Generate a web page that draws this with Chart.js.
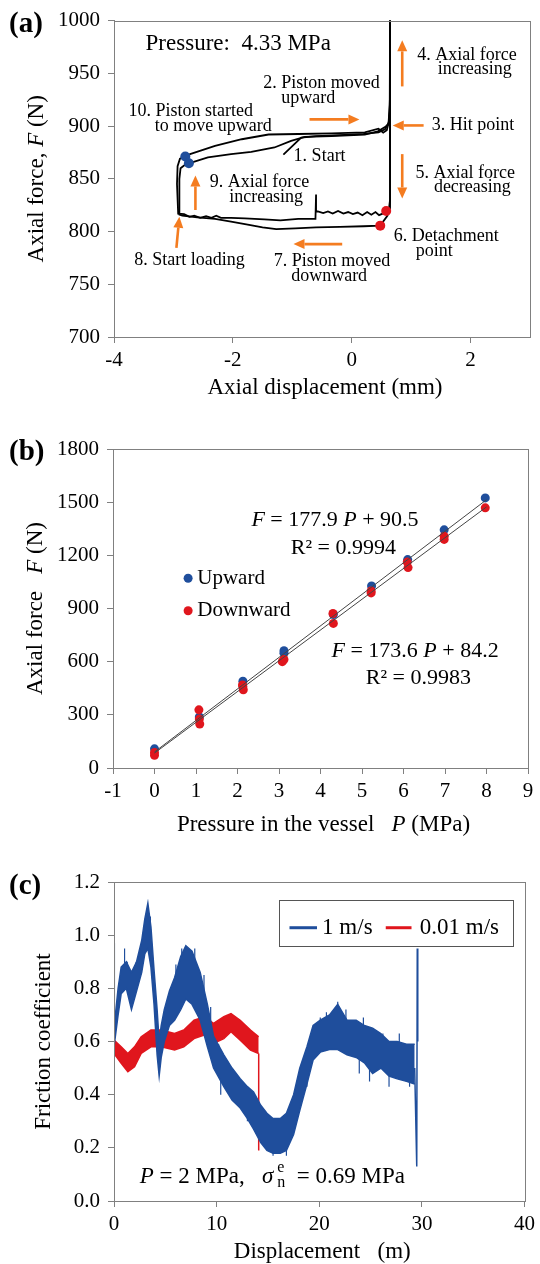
<!DOCTYPE html>
<html>
<head>
<meta charset="utf-8">
<script src="https://cdn.jsdelivr.net/npm/chart.js@4.4.1/dist/chart.umd.min.js"></script>
<style>
  body { margin: 0; background: #fff; }
  #wrap { position: relative; width: 540px; height: 1264px; }
  canvas { position: absolute; left: 0; }
</style>
</head>
<body>
<div id="wrap">
  <canvas id="chartA" width="540" height="410" style="top:0px"></canvas>
  <canvas id="chartB" width="540" height="420" style="top:420px"></canvas>
  <canvas id="chartC" width="540" height="414" style="top:850px"></canvas>
</div>
<script>
// ---- (a) axial force vs axial displacement, [mm, N] ----
const startStroke = [[-1.15, 873], [-0.85, 889], [-0.6, 890.5], [-0.2, 891.5], [0.2, 892.5], [0.45, 894], [0.56, 897], [0.62, 903], [0.64, 920], [0.645, 1005]];
const firstReturn = [[0.645, 1005], [0.645, 830], [0.63, 823], [0.58, 819.4], [0.52, 817], [0.46, 815.5], [0.4, 818.5], [0.33, 816], [0.26, 818.5], [0.18, 815.5], [0.1, 818], [0.02, 816.5], [-0.06, 818.5], [-0.14, 817], [-0.23, 819.5], [-0.32, 817], [-0.4, 819], [-0.48, 817.5], [-0.57, 819], [-0.6, 819], [-0.6, 835], [-0.61, 812], [-0.9, 812], [-1.2, 810.5], [-1.47, 811.5], [-1.8, 812.5], [-2.03, 813], [-2.2, 813], [-2.28, 815], [-2.36, 813], [-2.45, 814.5], [-2.55, 813], [-2.65, 815], [-2.73, 814], [-2.82, 816.5], [-2.92, 817], [-2.94, 845], [-2.93, 862], [-2.89, 869], [-2.8, 871.2]];
const secondStroke = [[-2.8, 871.2], [-2.72, 873.4], [-2.3, 881.3], [-1.85, 887.5], [-1.4, 892], [-0.9, 892.5], [-0.34, 893], [0.22, 894], [0.45, 897.5], [0.53, 893.7], [0.59, 896], [0.63, 905], [0.645, 930], [0.645, 1005]];
const secondReturn = [[0.645, 1005], [0.645, 822], [0.6, 815], [0.48, 805.6], [0.2, 805], [-0.2, 804.5], [-0.6, 804], [-0.95, 803], [-1.27, 802.2], [-1.5, 804], [-1.75, 806.5], [-2.03, 809.4], [-2.3, 812], [-2.6, 813.5], [-2.85, 815], [-2.9, 816], [-2.9, 850], [-2.88, 860], [-2.8, 863.5], [-2.74, 864.7]];
const thirdStroke = [[-2.74, 864.7], [-2.42, 870.3], [-2.03, 873.4], [-1.69, 875.6], [-1.3, 879.7], [-1.02, 885.9], [-0.79, 889.7], [-0.34, 890.6], [0.22, 891.9], [0.44, 895], [0.56, 899], [0.62, 902], [0.645, 915]];
const upwardStartPoints = [[-2.8, 871.2], [-2.74, 864.7]];
const detachPoints = [[0.58, 819.4], [0.48, 805.6]];

// ---- (b) axial force vs pressure ----
const pressureUp = [0, 1.08, 2.13, 3.12, 3.12, 4.31, 5.23, 6.10, 6.98, 7.97];
const forceUp = [108, 288, 490, 662, 648, 866, 1027, 1176, 1344, 1524];
const pressureDown = [0, 0, 1.07, 1.08, 1.09, 2.12, 2.13, 2.14, 3.08, 3.12, 4.30, 4.31, 5.22, 5.22, 6.09, 6.11, 6.98, 6.98, 7.97];
const forceDown = [88, 72, 328, 276, 248, 469, 459, 441, 600, 612, 872, 816, 999, 988, 1162, 1131, 1307, 1290, 1468];
const fitUp = [177.9, 90.5];     // slope, intercept
const fitDown = [173.6, 84.2];
const fitRange = [0, 8];

// ---- (c) friction coefficient vs displacement (noisy band: low / high edge) ----
const fastDist = [0, 0.4, 0.7, 1.2, 1.7, 2.2, 2.7, 3.0, 3.3, 3.6, 3.9, 4.2, 4.4, 4.6, 4.9, 5.4, 5.9, 6.5, 7.0, 7.6, 8.4, 9.1, 9.7, 10.7, 11.5, 12.3, 13.0, 13.6, 14.3, 14.9, 15.5, 16.2, 16.8, 17.5, 18.1, 18.8, 19.4, 20.1, 21.0, 21.8, 22.7, 23.6, 24.4, 25.2, 26.0, 26.8, 27.6, 28.5, 29.3];
const fastHigh = [0.65, 0.80, 0.88, 0.90, 0.86, 0.90, 0.98, 1.06, 1.12, 1.03, 0.87, 0.72, 0.60, 0.66, 0.72, 0.79, 0.84, 0.92, 0.96, 0.94, 0.86, 0.74, 0.62, 0.55, 0.50, 0.46, 0.43, 0.41, 0.36, 0.33, 0.31, 0.31, 0.33, 0.40, 0.50, 0.58, 0.66, 0.68, 0.70, 0.74, 0.68, 0.68, 0.66, 0.65, 0.63, 0.60, 0.60, 0.59, 0.59];
const fastLow = [0.58, 0.70, 0.78, 0.80, 0.72, 0.79, 0.86, 0.93, 0.95, 0.88, 0.74, 0.55, 0.47, 0.54, 0.60, 0.66, 0.68, 0.72, 0.76, 0.74, 0.68, 0.58, 0.50, 0.43, 0.38, 0.35, 0.31, 0.27, 0.22, 0.19, 0.18, 0.18, 0.19, 0.25, 0.34, 0.44, 0.53, 0.56, 0.57, 0.57, 0.55, 0.54, 0.52, 0.48, 0.50, 0.47, 0.46, 0.45, 0.44];
// isolated spikes sticking out of the band: [distance, from, to]
const fastSpikes = [[1.03, 0.84, 0.95], [1.29, 0.84, 0.90], [2.16, 0.84, 0.90], [2.48, 0.84, 0.88], [3.03, 0.98, 1.06], [3.55, 0.98, 1.07],
  [6.03, 0.78, 0.89], [6.6, 0.80, 0.95], [7.87, 0.84, 0.95], [8.77, 0.75, 0.85], [9.42, 0.65, 0.73], [10.2, 0.54, 0.59],
  [20.1, 0.62, 0.69], [20.7, 0.62, 0.71], [21.8, 0.64, 0.75], [22.6, 0.62, 0.72], [24.3, 0.60, 0.69], [26.2, 0.56, 0.63], [27.8, 0.54, 0.63],
  [10.4, 0.49, 0.40], [13.0, 0.36, 0.30], [13.9, 0.32, 0.25], [15.5, 0.24, 0.17], [16.8, 0.25, 0.17], [18.8, 0.50, 0.43],
  [23.9, 0.60, 0.48], [24.9, 0.58, 0.45], [26.8, 0.52, 0.43], [28.8, 0.52, 0.43]];
const fastStart = [[0, 0.6], [0.03, 0.97]];
const fastEnd = [[29.3, 0.5], [29.5, 0.13], [29.55, 0.95], [29.6, 0.6]];
const slowDist = [0, 0.7, 1.35, 2.0, 2.65, 3.6, 4.6, 5.9, 6.8, 7.8, 8.8, 9.7, 10.7, 11.4, 12.3, 13.3, 14.1];
const slowHigh = [0.605, 0.58, 0.555, 0.58, 0.618, 0.643, 0.643, 0.63, 0.643, 0.68, 0.693, 0.668, 0.693, 0.705, 0.68, 0.643, 0.618];
const slowLow = [0.555, 0.518, 0.486, 0.505, 0.555, 0.58, 0.58, 0.568, 0.58, 0.611, 0.624, 0.593, 0.611, 0.637, 0.605, 0.568, 0.555];
const slowStart = [[0, 0], [0, 0.6]];
const slowEnd = [[14.1, 0.555], [14.1, 0.19]];

const FONT = "'Liberation Serif', 'Times New Roman', serif";
const BLUE = '#1f4e9c', RED = '#e0161d', ORANGE = '#f47c20', GREY = '#808080';

const xy = pts => pts.map(p => ({x: p[0], y: p[1]}));
const zip = (xs, ys) => xs.map((x, i) => ({x: x, y: ys[i]}));
const spikePts = list => list.flatMap(s => [{x: s[0], y: s[1]}, {x: s[0], y: s[2]}, {x: s[0], y: null}]);

function fontOf(p, size) {
  return (p.i ? 'italic ' : '') + (p.s || size) + 'px ' + FONT;
}
function drawRich(ctx, parts, x, y, size, align) {
  if (typeof parts === 'string') parts = [{t: parts}];
  let w = 0;
  parts.forEach(p => { ctx.font = fontOf(p, size); if (!p.stack) w += ctx.measureText(p.t).width; });
  let cx = align === 'center' ? x - w / 2 : (align === 'right' ? x - w : x);
  ctx.textAlign = 'left';
  ctx.textBaseline = 'middle';
  parts.forEach(p => {
    ctx.font = fontOf(p, size);
    ctx.fillText(p.t, cx, y + (p.dy || 0));
    if (!p.stack) cx += ctx.measureText(p.t).width;
  });
}
function arrow(ctx, x1, y1, x2, y2) {
  const ang = Math.atan2(y2 - y1, x2 - x1), L = 11, W = 5;
  const bx = x2 - L * Math.cos(ang), by = y2 - L * Math.sin(ang);
  ctx.beginPath(); ctx.moveTo(x1, y1); ctx.lineTo(bx, by); ctx.stroke();
  ctx.beginPath(); ctx.moveTo(x2, y2);
  ctx.lineTo(bx + W * Math.sin(ang), by - W * Math.cos(ang));
  ctx.lineTo(bx - W * Math.sin(ang), by + W * Math.cos(ang));
  ctx.closePath(); ctx.fill();
}

function decor(opts) {
  return {
    id: 'decor',
    afterDraw(chart) {
      const {ctx, chartArea: a} = chart;
      const px = v => chart.scales.x.getPixelForValue(v);
      const py = v => chart.scales.y.getPixelForValue(v);
      ctx.save();
      ctx.strokeStyle = GREY; ctx.lineWidth = 1;
      ctx.strokeRect(Math.round(a.left) + 0.5, Math.round(a.top) + 0.5, Math.round(a.right - a.left), Math.round(a.bottom - a.top));
      ctx.fillStyle = '#000';
      ctx.font = 'bold 29px ' + FONT; ctx.textAlign = 'left'; ctx.textBaseline = 'middle';
      ctx.fillText(opts.label, 9, opts.labelY);
      drawRich(ctx, opts.xTitle, (a.left + a.right) / 2 + 3, a.bottom + opts.xTitleGap, 23, 'center');
      ctx.save();
      ctx.translate(opts.yTitleX, (a.top + a.bottom) / 2); ctx.rotate(-Math.PI / 2);
      drawRich(ctx, opts.yTitle, 0, 0, 23, 'center');
      ctx.restore();
      (opts.notes || []).forEach(n => drawRich(ctx, n.parts, px(n.x), py(n.y), n.s || 18, n.align || 'center'));
      ctx.strokeStyle = ORANGE; ctx.fillStyle = ORANGE; ctx.lineWidth = 2.6;
      (opts.arrows || []).forEach(r => arrow(ctx, px(r[0]), py(r[1]), px(r[2]), py(r[3])));
      ctx.fillStyle = '#000';
      if (opts.extra) opts.extra(ctx, px, py);
      ctx.restore();
    }
  };
}

function axisX(min, max, step, height) {
  return {
    type: 'linear', min: min, max: max,
    ticks: {stepSize: step, color: '#000', font: {family: FONT, size: 21}, padding: 5, maxRotation: 0, autoSkip: false, callback: v => String(v)},
    grid: {drawOnChartArea: false, tickLength: 6, color: GREY},
    border: {color: GREY},
    afterFit: s => { s.height = height; }
  };
}
function axisY(min, max, step, width) {
  return {
    type: 'linear', min: min, max: max,
    ticks: {stepSize: step, color: '#000', font: {family: FONT, size: 21}, padding: 8, autoSkip: false, callback: v => String(v)},
    grid: {drawOnChartArea: false, tickLength: 6, color: GREY},
    border: {color: GREY},
    afterFit: s => { s.width = width; }
  };
}
function baseOptions(pad, scales) {
  return {
    responsive: false, animation: false, events: [],
    layout: {padding: pad},
    plugins: {legend: {display: false}, tooltip: {enabled: false}},
    scales: scales
  };
}
const lineDs = (pts, color, width) => ({data: pts, borderColor: color, borderWidth: width, pointRadius: 0, fill: false, tension: 0, spanGaps: false});
const dotDs = (pts, color, r) => ({data: pts, showLine: false, pointRadius: r, pointBackgroundColor: color, pointBorderWidth: 0, borderColor: color});

// ---------------- (a) ----------------
const xA = axisX(-4, 3, 2, 73);
xA.afterBuildTicks = s => { s.ticks = s.ticks.filter(t => t.value !== 3); };
new Chart(document.getElementById('chartA'), {
  type: 'line',
  data: {datasets: [
    dotDs(xy(upwardStartPoints), BLUE, 5),
    dotDs(xy(detachPoints), RED, 5),
    ...[startStroke, firstReturn, secondStroke, secondReturn, thirdStroke].map(s => lineDs(xy(s), '#000', 1.8))
  ]},
  options: baseOptions({left: 0, right: 10, top: 17, bottom: 0}, {x: xA, y: axisY(700, 1000, 50, 114)}),
  plugins: [decor({
    label: '(a)', labelY: 25, xTitleGap: 51, yTitleX: 37,
    xTitle: 'Axial displacement (mm)',
    yTitle: [{t: 'Axial force, '}, {t: 'F', i: true}, {t: ' (N)'}],
    notes: [
      {parts: 'Pressure:  4.33 MPa', x: -1.91, y: 978, s: 23},
      {parts: '2. Piston moved', x: -0.51, y: 940.7},
      {parts: 'upward', x: -0.73, y: 926},
      {parts: '4. Axial force', x: 1.94, y: 967},
      {parts: 'increasing', x: 2.07, y: 954},
      {parts: '10. Piston started', x: -2.71, y: 914},
      {parts: 'to move upward', x: -2.33, y: 900},
      {parts: '3. Hit point', x: 2.04, y: 900.6},
      {parts: '1. Start', x: -0.54, y: 871.3},
      {parts: '5. Axial force', x: 1.91, y: 855.6},
      {parts: 'decreasing', x: 2.03, y: 842.2},
      {parts: '9. Axial force', x: -1.55, y: 846.9},
      {parts: 'increasing', x: -1.44, y: 832.8},
      {parts: '6. Detachment', x: 1.59, y: 795.3},
      {parts: 'point', x: 1.39, y: 781.3},
      {parts: '8. Start loading', x: -2.73, y: 772.8},
      {parts: '7. Piston moved', x: -0.33, y: 771.9},
      {parts: 'downward', x: -0.38, y: 757.2}
    ],
    arrows: [
      [0.85, 937.6, 0.85, 981.3],
      [-0.71, 906.3, 0.13, 906.3],
      [1.21, 900.6, 0.69, 900.6],
      [0.85, 873.4, 0.85, 831.3],
      [-2.63, 820.4, -2.63, 853.2],
      [-2.95, 784.4, -2.90, 814],
      [-0.16, 788.1, -0.98, 788.1]
    ]
  })]
});

// ---------------- (b) ----------------
const fitLine = f => fitRange.map(p => ({x: p, y: f[0] * p + f[1]}));
new Chart(document.getElementById('chartB'), {
  type: 'line',
  data: {datasets: [
    lineDs(fitLine(fitUp), '#444', 1),
    lineDs(fitLine(fitDown), '#444', 1),
    dotDs(zip(pressureDown, forceDown), RED, 4.5),
    dotDs(zip(pressureUp, forceUp), BLUE, 4.5)
  ]},
  options: baseOptions({left: 0, right: 12, top: 29, bottom: 0}, {x: axisX(-1, 9, 1, 72), y: axisY(0, 1800, 300, 113)}),
  plugins: [decor({
    label: '(b)', labelY: 33, xTitleGap: 57, yTitleX: 36,
    xTitle: [{t: 'Pressure in the vessel   '}, {t: 'P', i: true}, {t: ' (MPa)'}],
    yTitle: [{t: 'Axial force   '}, {t: 'F', i: true}, {t: ' (N)'}],
    notes: [
      {parts: [{t: 'F', i: true}, {t: ' = 177.9 '}, {t: 'P', i: true}, {t: ' + 90.5'}], x: 4.35, y: 1396, s: 22},
      {parts: 'R\u00b2 = 0.9994', x: 4.55, y: 1240, s: 22},
      {parts: [{t: 'F', i: true}, {t: ' = 173.6 '}, {t: 'P', i: true}, {t: ' + 84.2'}], x: 6.28, y: 661, s: 22},
      {parts: 'R\u00b2 = 0.9983', x: 6.36, y: 505, s: 22},
      {parts: 'Upward', x: 1.03, y: 1071, s: 21, align: 'left'},
      {parts: 'Downward', x: 1.03, y: 887, s: 21, align: 'left'}
    ],
    extra: (ctx, px, py) => {
      [[1071, BLUE], [887, RED]].forEach(m => {
        ctx.fillStyle = m[1];
        ctx.beginPath(); ctx.arc(px(0.81), py(m[0]), 4.5, 0, Math.PI * 2); ctx.fill();
      });
    }
  })]
});

// ---------------- (c) ----------------
const yC = axisY(0, 1.2, 0.2, 114);
yC.ticks.callback = v => v.toFixed(1);
const band = (xs, ys, color, fill) => ({data: zip(xs, ys), borderColor: color, backgroundColor: color, borderWidth: 1.5, pointRadius: 0, tension: 0, fill: fill});
new Chart(document.getElementById('chartC'), {
  type: 'line',
  data: {datasets: [
    band(fastDist, fastLow, BLUE, false),
    band(fastDist, fastHigh, BLUE, '-1'),
    lineDs(spikePts(fastSpikes), BLUE, 1.2),
    lineDs(xy(fastStart), BLUE, 1.5),
    lineDs(xy(fastEnd), BLUE, 1.5),
    lineDs(xy(slowEnd), RED, 1.5),
    band(slowDist, slowLow, RED, false),
    band(slowDist, slowHigh, RED, '-1'),
    lineDs(xy(slowStart), '#f08a8a', 1.5)
  ]},
  options: baseOptions({left: 0, right: 12, top: 32, bottom: 0}, {x: axisX(0, 40, 10, 63), y: yC}),
  plugins: [decor({
    label: '(c)', labelY: 37, xTitleGap: 51, yTitleX: 44,
    xTitle: 'Displacement   (m)',
    yTitle: 'Friction coefficient',
    notes: [
      {parts: [{t: 'P', i: true}, {t: ' = 2 MPa,   '}, {t: '\u03c3', i: true}, {t: ' e', s: 16, dy: -9, stack: true}, {t: ' n', s: 16, dy: 6}, {t: '  = 0.69 MPa'}], x: 2.5, y: 0.09, s: 23, align: 'left'}
    ],
    extra: (ctx, px, py) => {
      ctx.strokeStyle = '#555'; ctx.lineWidth = 1;
      const l = Math.round(px(16.07)) + 0.5, t = Math.round(py(1.133)) + 0.5;
      ctx.strokeRect(l, t, Math.round(px(38.88) - px(16.07)), Math.round(py(0.959) - py(1.133)));
      ctx.lineWidth = 3;
      [[17.1, 19.78, BLUE, '1 m/s', 20.28], [26.48, 28.99, RED, '0.01 m/s', 29.8]].forEach(it => {
        ctx.strokeStyle = it[2];
        ctx.beginPath(); ctx.moveTo(px(it[0]), py(1.028)); ctx.lineTo(px(it[1]), py(1.028)); ctx.stroke();
        ctx.fillStyle = '#000';
        drawRich(ctx, it[3], px(it[4]), py(1.028), 23, 'left');
      });
    }
  })]
});
</script>
</body>
</html>
